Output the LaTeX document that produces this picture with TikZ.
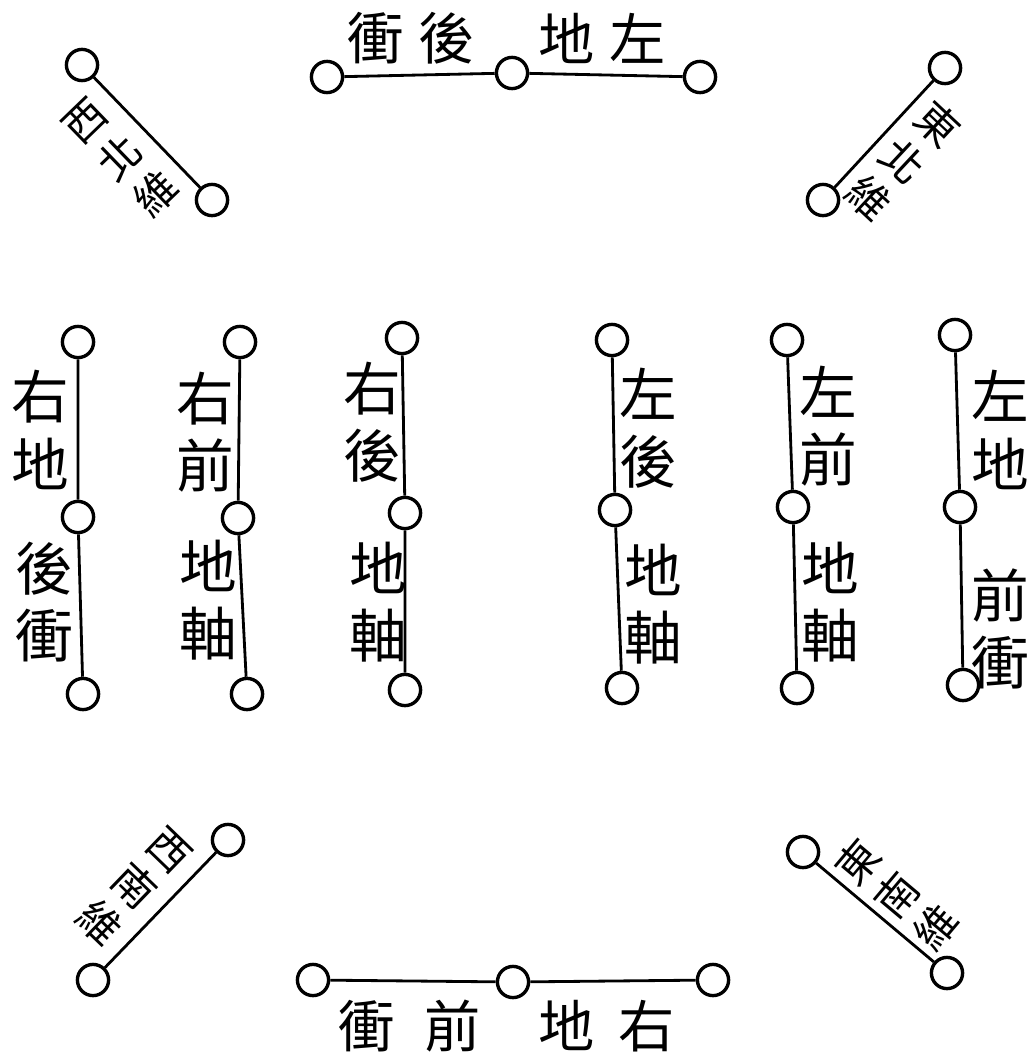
\documentclass[tikz,border=0pt]{standalone}
\usepackage{fontspec}
\newfontfamily\cjk{Noto Sans CJK TC}
\usetikzlibrary{positioning}

\begin{document}
\begin{tikzpicture}[
  x=0.025cm, y=-0.025cm,
  ring/.style ={draw, circle, line width=2.4pt, minimum size=0.78cm, inner sep=0pt, fill=white},
  bar/.style  ={line width=2pt},
  word/.style ={font=\cjk\fontsize{41}{48}\selectfont, align=center, inner sep=0pt},
  flat/.style ={font=\cjk\fontsize{40}{44}\selectfont, inner sep=0pt},
  slant/.style={font=\cjk\fontsize{30}{36}\selectfont, align=center, inner sep=0pt},
]
\useasboundingbox (0,0) rectangle (1030,1058);

% --- top row ---
\node[ring] (ta) at (327,77) {};
\node[ring] (tb) at (512,73) {};
\node[ring] (tc) at (700,77) {};
\draw[bar] (ta) -- (tb) -- (tc);
\node[flat] (tl) at (411,38) {衝\hspace{0.37cm}後};
\node[flat] (tr) at (602,38) {地\hspace{0.37cm}左};

% --- bottom row ---
\node[ring] (ba) at (313,980) {};
\node[ring] (bb) at (513,982) {};
\node[ring] (bc) at (713,980) {};
\draw[bar] (ba) -- (bb) -- (bc);
\node[flat] (bl) at (410,1026) {衝\hspace{0.74cm}前};
\node[flat] (br) at (607,1026) {地\hspace{0.59cm}右};

% --- columns ---
\node[ring] (c1a) at (78,342) {};  \node[ring] (c1b) at (78,517) {};  \node[ring] (c1c) at (83,694) {};
\node[ring] (c2a) at (240,342) {}; \node[ring] (c2b) at (238,518) {}; \node[ring] (c2c) at (247,694) {};
\node[ring] (c3a) at (402,338) {}; \node[ring] (c3b) at (405,513) {}; \node[ring] (c3c) at (405,690) {};
\node[ring] (c4a) at (612,340) {}; \node[ring] (c4b) at (615,510) {}; \node[ring] (c4c) at (622,688) {};
\node[ring] (c5a) at (787,340) {}; \node[ring] (c5b) at (793,507) {}; \node[ring] (c5c) at (797,688) {};
\node[ring] (c6a) at (955,335) {}; \node[ring] (c6b) at (960,507) {}; \node[ring] (c6c) at (963,685) {};
\draw[bar] (c1a) -- (c1b) -- (c1c);
\draw[bar] (c2a) -- (c2b) -- (c2c);
\draw[bar] (c3a) -- (c3b) -- (c3c);
\draw[bar] (c4a) -- (c4b) -- (c4c);
\draw[bar] (c5a) -- (c5b) -- (c5c);
\draw[bar] (c6a) -- (c6b) -- (c6c);

\node[word] (w1a) at (40,430)   {右\\地};
\node[word] (w1b) at (44,602)   {後\\衝};
\node[word] (w2a) at (205,432)  {右\\前};
\node[word] (w2b) at (208,600)  {地\\軸};
\node[word] (w3a) at (372,422)  {右\\後};
\node[word] (w3b) at (378,602)  {地\\軸};
\node[word] (w4a) at (648,428)  {左\\後};
\node[word] (w4b) at (653,604)  {地\\軸};
\node[word] (w5a) at (828,426)  {左\\前};
\node[word] (w5b) at (830,602)  {地\\軸};
\node[word] (w6a) at (1000,430) {左\\地};
\node[word] (w6b) at (1000,629) {前\\衝};

% --- corners ---
\node[ring] (nwa) at (82,65) {};   \node[ring] (nwb) at (212,200) {};
\node[ring] (nea) at (945,68) {};  \node[ring] (neb) at (823,200) {};
\node[ring] (swa) at (228,840) {}; \node[ring] (swb) at (93,980) {};
\node[ring] (sea) at (803,852) {}; \node[ring] (seb) at (947,973) {};
\draw[bar] (nwa) -- (nwb);
\draw[bar] (nea) -- (neb);
\draw[bar] (swa) -- (swb);
\draw[bar] (sea) -- (seb);

\node[slant, rotate=44]  (nw) at (121,158) {西\\北\\維};
\node[slant, rotate=-43] (ne) at (903,161) {東\\北\\維};
\node[slant, rotate=-44] (sw) at (134,887) {西\\南\\維};
\node[slant, rotate=50]  (se) at (897,895) {東\\南\\維};
\end{tikzpicture}
\end{document}
